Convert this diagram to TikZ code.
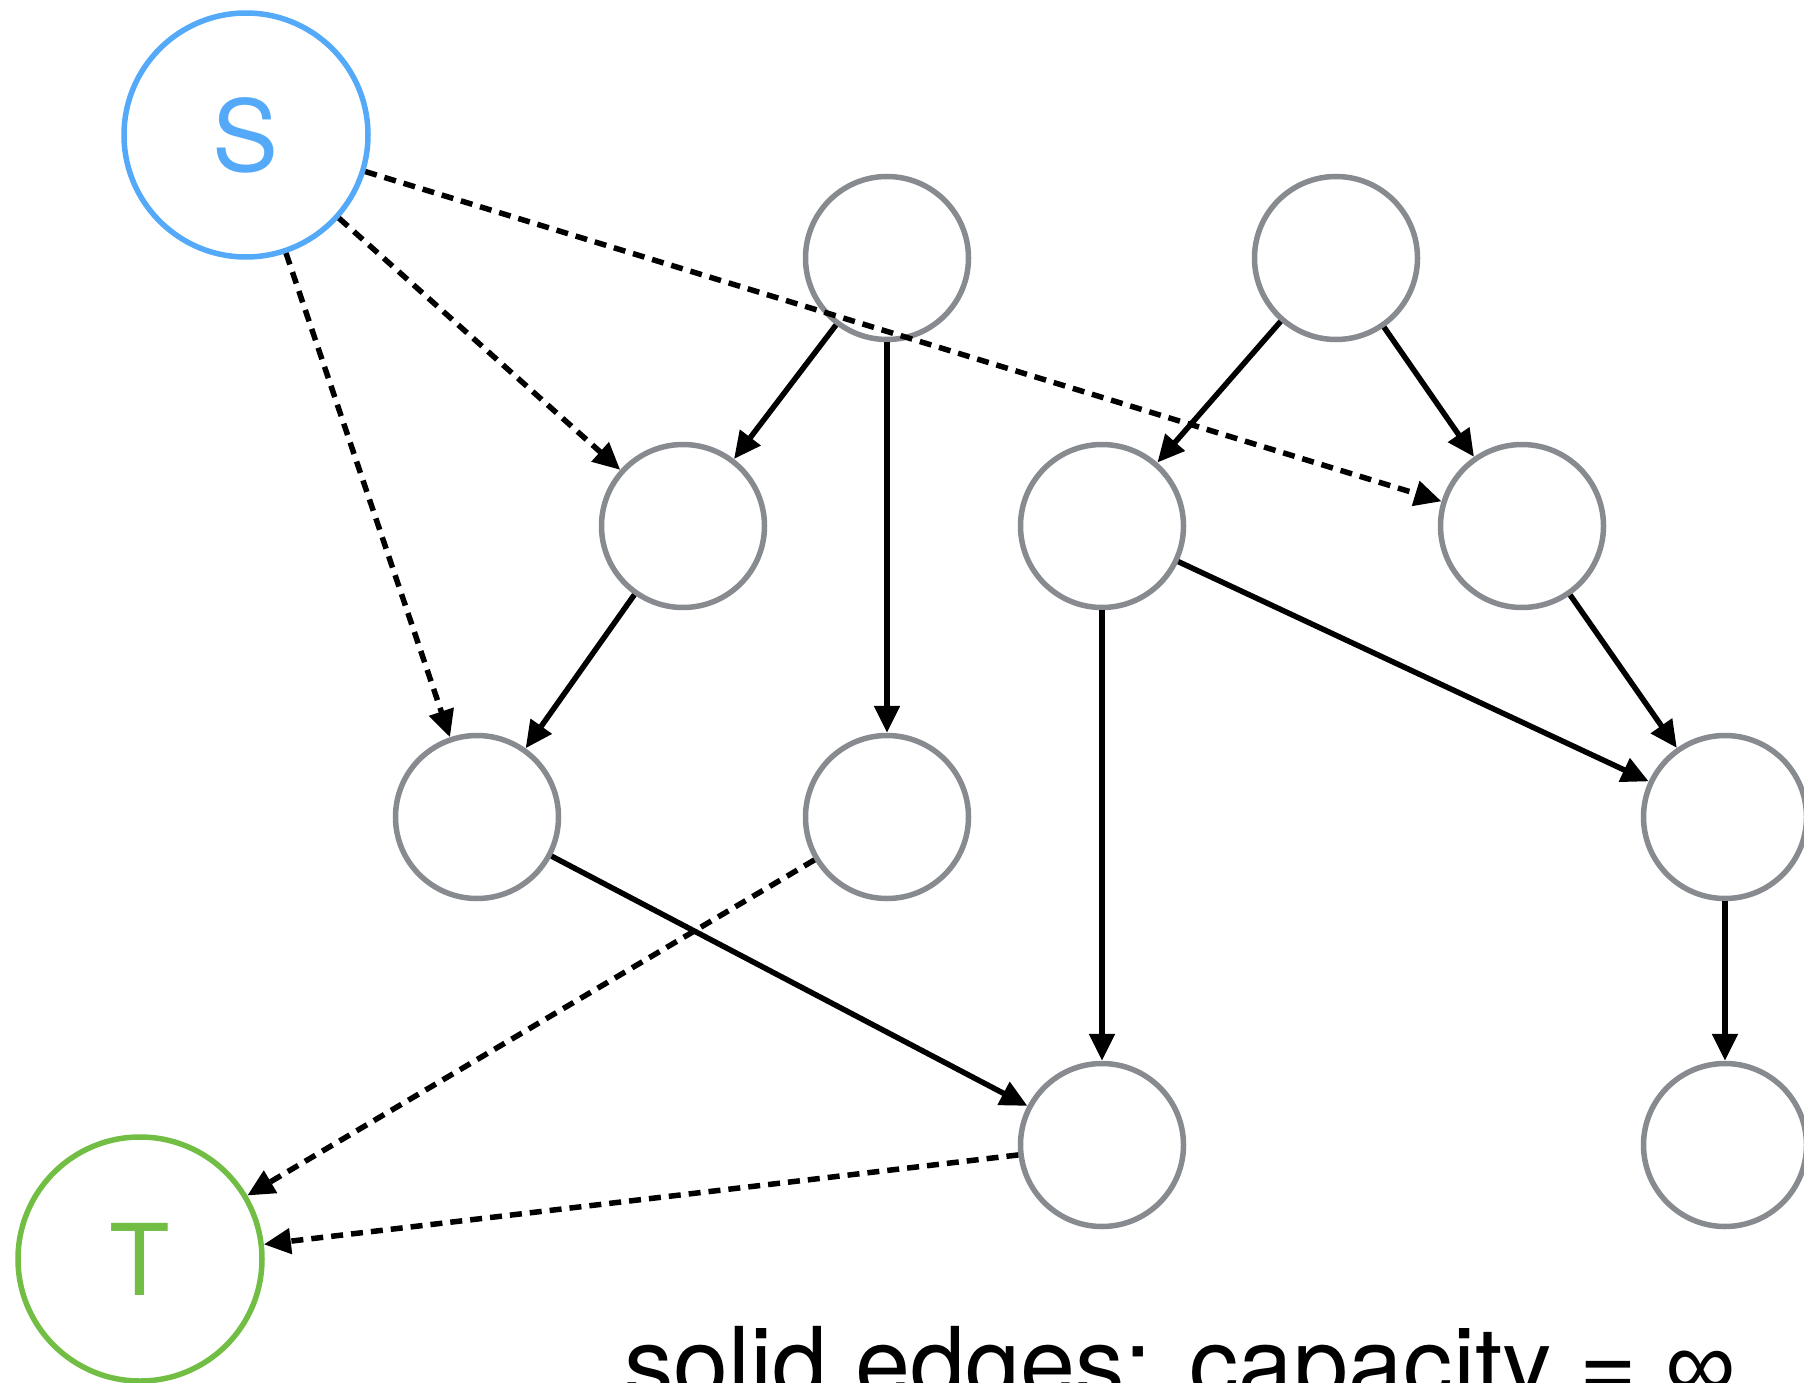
\documentclass[tikz,border=0pt]{standalone}
\usepackage{fontspec}
\setmainfont{TeX Gyre Heros}
\newfontfamily\symfont{Liberation Sans}
\usetikzlibrary{arrows.meta}
\definecolor{srcblue}{RGB}{84,169,248}
\definecolor{sinkgreen}{RGB}{114,190,68}
\definecolor{nodegray}{RGB}{135,138,143}
\begin{document}
\begin{tikzpicture}[x=1pt,y=-1pt,
  vertex/.style={circle, draw=nodegray, line width=5.5pt, minimum size=163pt, inner sep=0pt},
  terminal/.style={circle, line width=5.5pt, minimum size=244pt, inner sep=0pt,
    font=\fontsize{99}{99}\selectfont},
  edge/.style={line width=5.5pt, -{Triangle[length=27pt,width=25pt]}},
  dashedge/.style={edge, dash pattern=on 12pt off 8pt}]
\clip (0,0) rectangle (1804,1383);

% source and sink
\node[terminal, draw=srcblue, text=srcblue] (s) at (246,135) {S};
\node[terminal, draw=sinkgreen, text=sinkgreen] (t) at (140,1259) {T};

% inner vertices
\node[vertex] (a1) at (887,258) {};
\node[vertex] (a2) at (1336,258) {};
\node[vertex] (b1) at (683,526) {};
\node[vertex] (b2) at (1102,526) {};
\node[vertex] (b3) at (1522,526) {};
\node[vertex] (c1) at (477,817) {};
\node[vertex] (c2) at (887,817) {};
\node[vertex] (c3) at (1725,817) {};
\node[vertex] (d1) at (1102,1145) {};
\node[vertex] (d2) at (1725,1145) {};

% infinite-capacity edges
\draw[edge] (a1) -- (b1);
\draw[edge] (a1) -- (c2);
\draw[edge] (a2) -- (b2);
\draw[edge] (a2) -- (b3);
\draw[edge] (b1) -- (c1);
\draw[edge] (b2) -- (d1);
\draw[edge] (b2) -- (c3);
\draw[edge] (b3) -- (c3);
\draw[edge] (c1) -- (d1);
\draw[edge] (c3) -- (d2);

% source and sink edges
\draw[dashedge] (s) -- (b3);
\draw[dashedge] (s) -- (b1);
\draw[dashedge] (s) -- (c1);
\draw[dashedge] (c2) -- (t);
\draw[dashedge] (d1) -- (t);

% legend
\node[anchor=base west, inner sep=0pt, font=\fontsize{99}{99}\selectfont] (legend)
  at (624,1398) {solid edges: capacity = {\symfont ∞}};
\end{tikzpicture}
\end{document}
